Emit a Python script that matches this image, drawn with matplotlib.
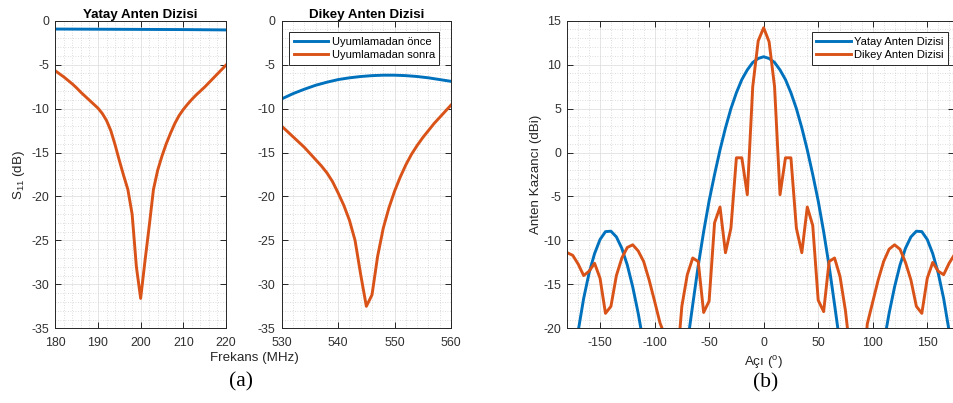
import matplotlib
matplotlib.use("Agg")
import matplotlib.pyplot as plt
from matplotlib.ticker import MultipleLocator

plt.rcParams['font.family'] = ['Liberation Sans', 'DejaVu Sans']
plt.rcParams['mathtext.default'] = 'regular'
plt.rcParams['axes.unicode_minus'] = False

BLUE = '#0072BD'
ORANGE = '#D95319'
AXC = '#262626'

# ---------------- data ----------------
# (a) left: Yatay Anten Dizisi
f_yatay_once = [180, 185, 190, 195, 200, 205, 210, 215, 220]
s11_yatay_once = [-0.95, -0.96, -0.97, -0.98, -0.99, -1.0, -1.01, -1.03, -1.05]
f_yatay_sonra = list(range(180, 221))
s11_yatay_sonra = [-5.7, -6.05, -6.4, -6.8, -7.2, -7.65, -8.15, -8.6, -9.05, -9.5,
                   -9.95, -10.55, -11.35, -12.5, -14.1, -15.9, -17.6, -19.2, -22.0, -28.0,
                   -31.6, -27.4, -23.4, -19.2, -17.0, -15.4, -14.0, -12.8, -11.7, -10.8,
                   -10.1, -9.5, -8.95, -8.45, -8.0, -7.55, -7.05, -6.55, -6.05, -5.55,
                   -5.05]

# (a) right: Dikey Anten Dizisi
f_dikey_once = [530, 532, 534, 536, 538, 540, 542, 544, 546, 548, 550, 552, 554, 556, 558, 560]
s11_dikey_once = [-8.9, -8.3, -7.8, -7.35, -7.0, -6.7, -6.5, -6.35, -6.25, -6.2,
                  -6.2, -6.25, -6.35, -6.5, -6.7, -6.9]
f_dikey_sonra = list(range(530, 561))
s11_dikey_sonra = [-12.0, -12.6, -13.2, -13.8, -14.4, -15.1, -15.8, -16.5, -17.3, -18.3,
                   -19.6, -21.0, -22.7, -25.0, -28.9, -32.5, -31.2, -26.8, -23.6, -21.3,
                   -19.4, -17.8, -16.4, -15.2, -14.2, -13.3, -12.5, -11.7, -11.0, -10.3,
                   -9.6]

# (b) gain patterns
aci = list(range(-180, 181, 5))
kazanc_yatay = [-29.0, -24.5, -20.3, -16.6, -13.7, -11.5, -9.9, -9.0, -8.95, -9.6,
                -10.9, -12.8, -15.3, -18.3, -21.8, -26.5, -31.0, -38.0, -45.0, -40.0,
                -33.0, -27.0, -21.8, -17.3, -12.9, -9.0, -5.5, -2.5, 0.3, 2.8,
                5.0, 6.8, 8.3, 9.4, 10.25, 10.7, 10.9, 10.7, 10.25, 9.4,
                8.3, 6.8, 5.0, 2.8, 0.3, -2.5, -5.5, -9.0, -12.9, -17.3,
                -21.8, -27.0, -33.0, -40.0, -45.0, -38.0, -31.0, -26.5, -21.8, -18.3,
                -15.3, -12.8, -10.9, -9.6, -8.95, -9.0, -9.9, -11.5, -13.7, -16.6,
                -20.3, -24.5, -29.0]
kazanc_dikey = [-11.4, -11.7, -12.7, -14.0, -13.5, -12.6, -14.3, -18.3, -17.5, -14.0,
                -12.0, -10.8, -10.5, -11.2, -12.4, -14.5, -16.9, -19.4, -21.0, -30.0,
                -25.0, -17.5, -13.9, -12.0, -12.4, -18.2, -16.9, -8.0, -6.2, -11.4,
                -8.6, -0.6, -0.6, -4.8, 7.5, 12.7, 14.2, 12.6, 7.5, -4.8,
                -0.6, -0.6, -8.6, -11.4, -6.2, -8.3, -16.8, -18.1, -12.4, -12.0,
                -14.1, -18.0, -23.5, -30.0, -27.0, -19.5, -17.0, -14.5, -12.4, -11.0,
                -10.5, -11.0, -12.5, -14.5, -17.5, -18.3, -14.3, -12.5, -13.5, -13.9,
                -12.6, -11.6, -11.4]

# ---------------- figure ----------------
W, H = 954, 403
fig = plt.figure(figsize=(W / 100, H / 100), dpi=100)

def px_axes(l, r, t, b):
    return fig.add_axes([l / W, 1 - b / H, (r - l) / W, (b - t) / H])

ax1 = px_axes(55.3, 226, 20.7, 328.3)
ax2 = px_axes(281.7, 451, 20.7, 328.3)
ax3 = px_axes(567.3, 954, 20.7, 328.3)

TICK = 8.9
LAB = 9.6

def style(ax, xmaj, xmin, ymaj, ymin):
    ax.xaxis.set_major_locator(MultipleLocator(xmaj))
    ax.xaxis.set_minor_locator(MultipleLocator(xmin))
    ax.yaxis.set_major_locator(MultipleLocator(ymaj))
    ax.yaxis.set_minor_locator(MultipleLocator(ymin))
    ax.grid(which='major', color='#e0e0e0', lw=0.6, ls='-')
    ax.grid(which='minor', color='#d2d2d2', lw=0.6, ls=(0, (1, 2)))
    ax.set_axisbelow(True)
    ax.tick_params(which='major', direction='in', length=4, width=0.7,
                   top=True, right=True, colors=AXC, labelsize=TICK)
    ax.tick_params(which='major', labelcolor='#303030')
    ax.tick_params(axis='x', which='major', pad=6)
    ax.tick_params(axis='y', which='major', pad=4.3)
    ax.tick_params(which='minor', length=0)
    for s in ax.spines.values():
        s.set_color(AXC)
        s.set_linewidth(0.7)

lw = 2.1
ax1.plot(f_yatay_once, s11_yatay_once, color=BLUE, lw=lw)
ax1.plot(f_yatay_sonra, s11_yatay_sonra, color=ORANGE, lw=lw)
ax1.set_xlim(180, 220)
ax1.set_ylim(-35, 0)
style(ax1, 10, 2, 5, 1)
ax1.set_title('Yatay Anten Dizisi', fontsize=9.6, fontweight='bold', pad=2)
ax1.set_ylabel('S$_{11}$ (dB)', fontsize=LAB, color=AXC, labelpad=3)

l1, = ax2.plot(f_dikey_once, s11_dikey_once, color=BLUE, lw=lw)
l2, = ax2.plot(f_dikey_sonra, s11_dikey_sonra, color=ORANGE, lw=lw)
ax2.set_xlim(530, 560)
ax2.set_ylim(-35, 0)
style(ax2, 10, 2, 5, 1)
ax2.set_title('Dikey Anten Dizisi', fontsize=9.6, fontweight='bold', pad=2)
leg2 = ax2.legend([l1, l2], ['Uyumlamadan önce', 'Uyumlamadan sonra'],
                  loc='upper right', bbox_to_anchor=(0.931, 0.962), fontsize=8,
                  handlelength=3.1, handletextpad=0.3, labelspacing=0.3,
                  borderpad=0.4, borderaxespad=0, fancybox=False, framealpha=1)
leg2.get_frame().set_edgecolor(AXC)
leg2.get_frame().set_linewidth(0.7)

b1, = ax3.plot(aci, kazanc_yatay, color=BLUE, lw=lw)
b2, = ax3.plot(aci, kazanc_dikey, color=ORANGE, lw=lw)
ax3.set_xlim(-180, 174.5)
ax3.set_ylim(-20, 15)
style(ax3, 50, 10, 5, 1)
ax3.set_ylabel('Anten Kazancı (dBi)', fontsize=LAB, color=AXC, labelpad=1)
leg3 = ax3.legend([b1, b2], ['Yatay Anten Dizisi', 'Dikey Anten Dizisi'],
                  loc='upper right', bbox_to_anchor=(0.984, 0.962), fontsize=8,
                  handlelength=3.1, handletextpad=0.3, labelspacing=0.3,
                  borderpad=0.4, borderaxespad=0, fancybox=False, framealpha=1)
leg3.get_frame().set_edgecolor(AXC)
leg3.get_frame().set_linewidth(0.7)

fig.text(254 / W, 1 - 358.5 / H, 'Frekans (MHz)', fontsize=LAB, color=AXC,
         ha='center', va='center')
fig.text(763 / W, 1 - 362 / H, 'Açı ($^{o}$)', fontsize=LAB, color=AXC,
         ha='center', va='center')
fig.text(241 / W, 1 - 382 / H, '(a)', fontsize=15.5, family='Liberation Serif',
         ha='center', va='center')
fig.text(765.6 / W, 1 - 382.7 / H, '(b)', fontsize=15.5, family='Liberation Serif',
         ha='center', va='center')

fig.savefig('out.png', dpi=100)
